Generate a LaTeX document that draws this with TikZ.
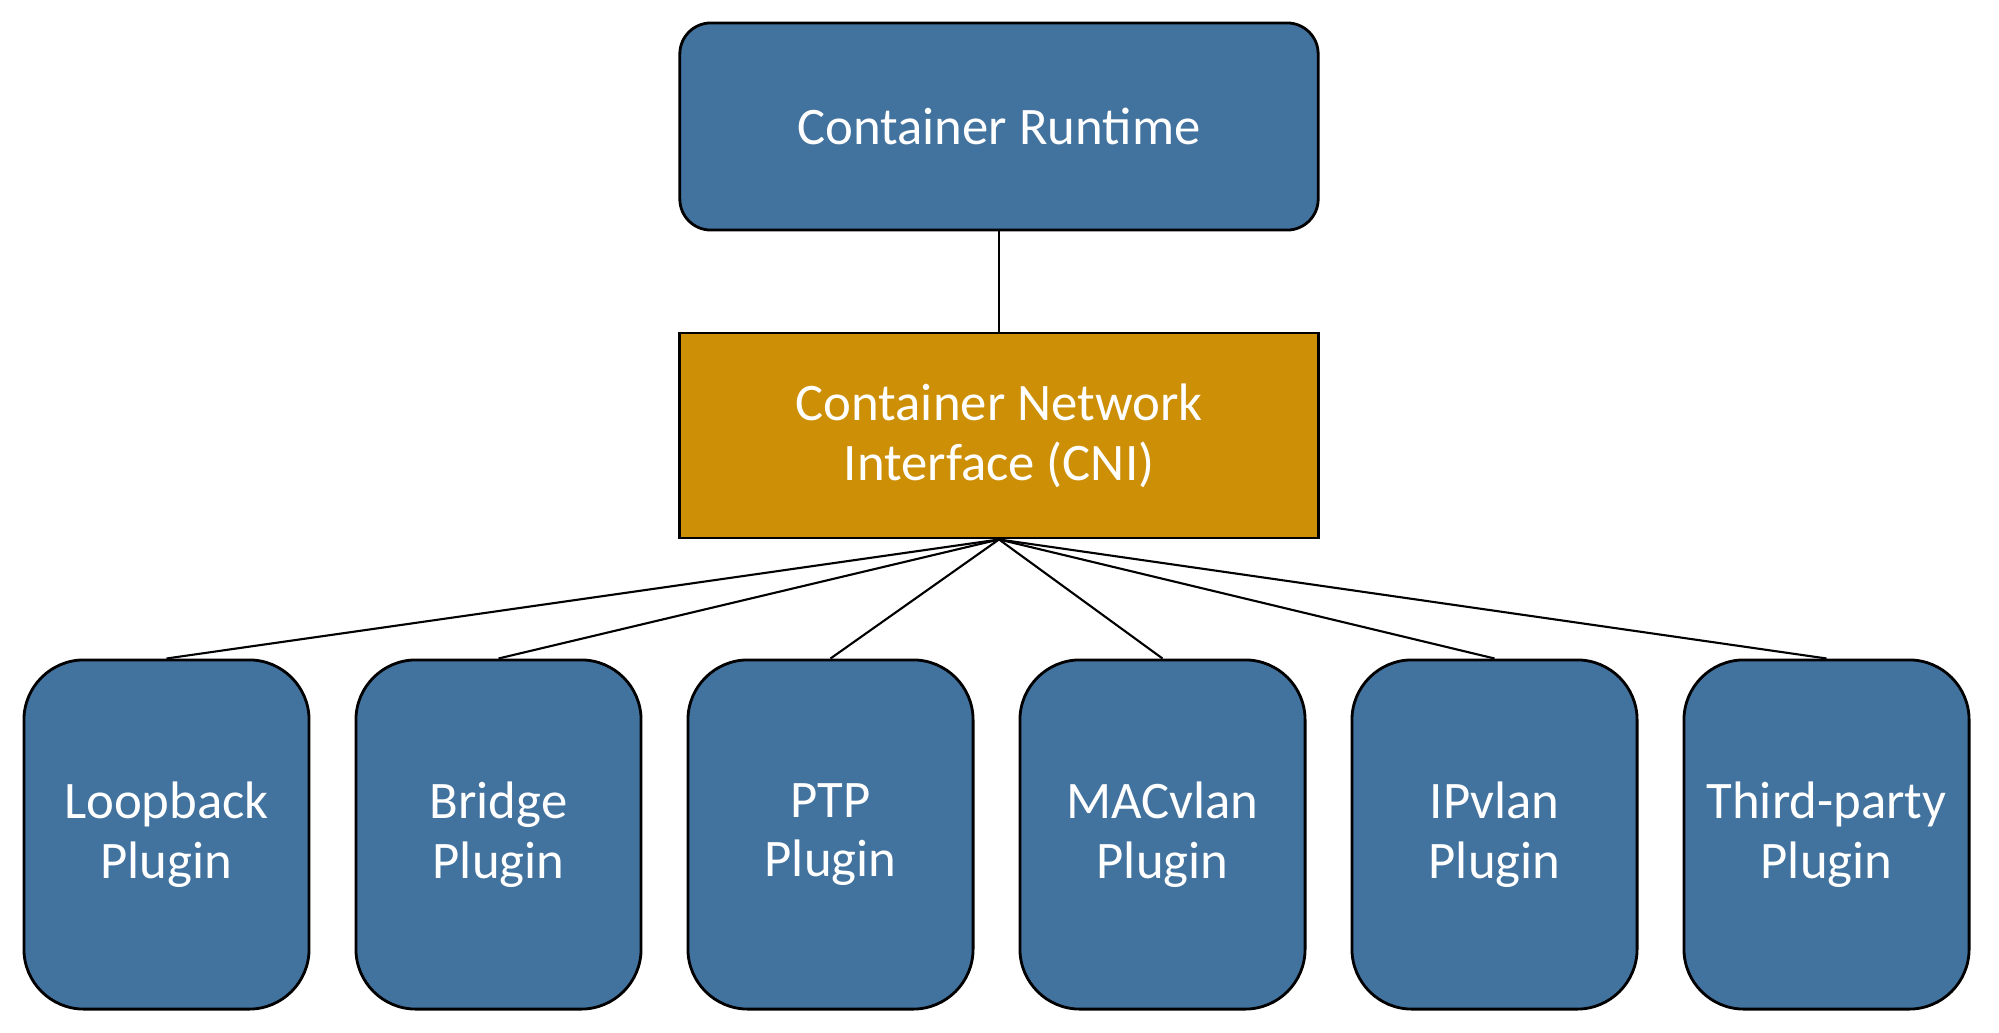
\documentclass[tikz,border=0pt]{standalone}
\usepackage{fontspec}
\setmainfont{Carlito}
\usepackage{xcolor}
\usepackage{tikz}
\usetikzlibrary{positioning}

\definecolor{runtimeblue}{RGB}{66,114,158}
\definecolor{cnigold}{RGB}{204,143,6}

\begin{document}
\begin{tikzpicture}[x=0.01cm, y=-0.01cm]
                \tikzstyle{block} = [draw, line width=0.8pt, fill=runtimeblue, text=white, inner sep=0pt, align=center, font=\fontsize{15}{17}\selectfont]
                \tikzstyle{plugin} = [block, rounded corners=0.6cm, minimum width=2.85cm, minimum height=3.49cm]
                \tikzstyle{link} = [line width=0.6pt]

                \useasboundingbox (0,0) rectangle (1999,1033);

                \node [block, rounded corners=0.31cm, minimum width=6.38cm, minimum height=2.07cm] (runtime) at (999,126.5) {Container Runtime};
                \node [block, fill=cnigold, minimum width=6.38cm, minimum height=2.05cm, below = 1.0cm of runtime] (cni) {Container Network\\Interface (CNI)};

                \node [plugin] (loopback) at (166.5,834.5) {Loopback\\Plugin};
                \node [plugin, right = 0.44cm of loopback] (bridge) {Bridge\\Plugin};
                \node [plugin, right = 0.44cm of bridge] (ptp) {PTP\\Plugin};
                \node [plugin, right = 0.44cm of ptp] (macvlan) {MACvlan\\Plugin};
                \node [plugin, right = 0.44cm of macvlan] (ipvlan) {IPvlan\\Plugin};
                \node [plugin, right = 0.44cm of ipvlan] (third-party) {Third-party\\Plugin};

                \draw [link] (runtime) -- (cni);
                \draw [link] (cni.south) -- (loopback.north);
                \draw [link] (cni.south) -- (bridge.north);
                \draw [link] (cni.south) -- (ptp.north);
                \draw [link] (cni.south) -- (macvlan.north);
                \draw [link] (cni.south) -- (ipvlan.north);
                \draw [link] (cni.south) -- (third-party.north);
\end{tikzpicture}
\end{document}
